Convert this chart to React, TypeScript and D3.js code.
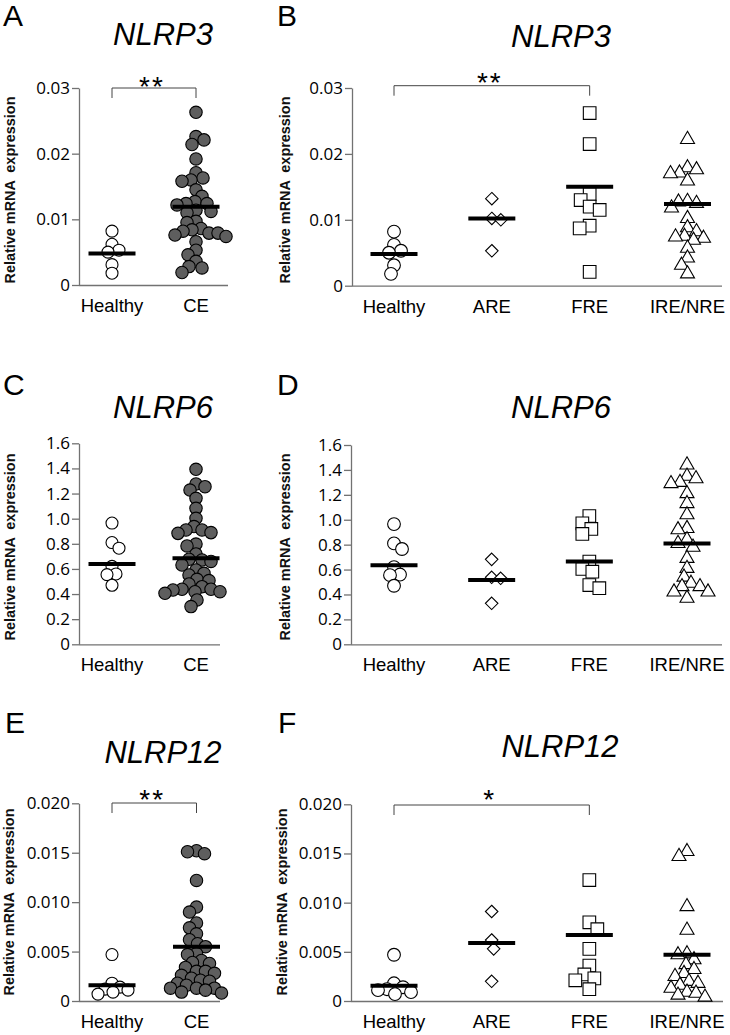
import React, { useRef, useEffect } from 'react';
import * as d3 from 'd3';

// group labels
const twoGroups = ['Healthy', 'CE'];
const fourGroups = ['Healthy', 'ARE', 'FRE', 'IRE/NRE'];

// NLRP3
const nlrp3Healthy = [0.0082, 0.0062, 0.0053, 0.0050, 0.0031, 0.0018];
const nlrp3CE = [0.0263, 0.0226, 0.0221, 0.0214, 0.0192, 0.0171, 0.0163, 0.0160, 0.0158, 0.0145, 0.0135,
  0.0127, 0.0124, 0.0124, 0.0122, 0.0114, 0.0112, 0.0110, 0.0097, 0.0095, 0.0086, 0.0084, 0.0082, 0.0079,
  0.0079, 0.0076, 0.0074, 0.0066, 0.0053, 0.0046, 0.0036, 0.0028, 0.0026, 0.0019];
const nlrp3ARE = [0.0132, 0.0102, 0.0100, 0.0053];
const nlrp3FRE = [0.0262, 0.0215, 0.0139, 0.0130, 0.0120, 0.0115, 0.0091, 0.0087, 0.0021];
const nlrp3IRE = [0.0222, 0.0179, 0.0176, 0.0171, 0.0170, 0.0159, 0.0128, 0.0127, 0.0125, 0.0118, 0.0102,
  0.0088, 0.0082, 0.0075, 0.0074, 0.0072, 0.0069, 0.0057, 0.0042, 0.0031, 0.0018];
const nlrp3MeansA = [0.0048, 0.0119];
const nlrp3MeansB = [0.0048, 0.0102, 0.0150, 0.0124];
const nlrp3Ticks = [0, 0.01, 0.02, 0.03];
const nlrp3TickLabels = ['0', '0.01', '0.02', '0.03'];

// NLRP6
const nlrp6Healthy = [0.965, 0.81, 0.765, 0.62, 0.56, 0.555, 0.47];
const nlrp6CE = [1.393, 1.276, 1.255, 1.228, 1.162, 1.082, 1.003, 0.937, 0.91, 0.91, 0.889, 0.883, 0.798,
  0.783, 0.719, 0.677, 0.671, 0.66, 0.631, 0.592, 0.565, 0.552, 0.517, 0.507, 0.48, 0.459, 0.438, 0.438,
  0.432, 0.419, 0.419, 0.406, 0.353, 0.300];
const nlrp6ARE = [0.682, 0.538, 0.53, 0.329];
const nlrp6FRE = [1.03, 0.971, 0.926, 0.886, 0.664, 0.605, 0.583, 0.476, 0.45];
const nlrp6IRE = [1.44, 1.35, 1.33, 1.30, 1.29, 1.21, 1.13, 1.04, 0.93, 0.92, 0.84, 0.81, 0.78, 0.69, 0.61,
  0.54, 0.49, 0.463, 0.463, 0.42, 0.42, 0.37];
const nlrp6MeansC = [0.64, 0.685];
const nlrp6MeansD = [0.634, 0.516, 0.664, 0.81];
const nlrp6Ticks = [0, 0.2, 0.4, 0.6, 0.8, 1.0, 1.2, 1.4, 1.6];
const nlrp6TickLabels = ['0', '0.2', '0.4', '0.6', '0.8', '1.0', '1.2', '1.4', '1.6'];

// NLRP12
const nlrp12Healthy = [0.0047, 0.0018, 0.0014, 0.0012, 0.0011, 0.0009, 0.0007];
const nlrp12CE = [0.0152, 0.0151, 0.0149, 0.0122, 0.0095, 0.0090, 0.0079, 0.0074, 0.0068, 0.0062, 0.0058,
  0.0055, 0.0048, 0.0047, 0.0041, 0.0039, 0.0038, 0.0034, 0.0030, 0.0030, 0.0028, 0.0026, 0.0023, 0.0021,
  0.0020, 0.0018, 0.0016, 0.0013, 0.0013, 0.0013, 0.0011, 0.0009, 0.0008];
const nlrp12ARE = [0.0091, 0.0062, 0.0053, 0.0020];
const nlrp12FRE = [0.0123, 0.0080, 0.0073, 0.0053, 0.0036, 0.0027, 0.0023, 0.0021, 0.0012];
const nlrp12IRE = [0.0152, 0.0147, 0.0096, 0.0072, 0.0048, 0.0047, 0.0042, 0.0037, 0.0032, 0.0028, 0.0025,
  0.0020, 0.0018, 0.0016, 0.0013, 0.0009, 0.0008, 0.0006, 0.0004];
const nlrp12MeansE = [0.0016, 0.0055];
const nlrp12MeansF = [0.00156, 0.0059, 0.0067, 0.0047];
const nlrp12Ticks = [0, 0.005, 0.01, 0.015, 0.02];
const nlrp12TickLabels = ['0', '0.005', '0.010', '0.015', '0.020'];

const AXIS = '#727272';
const DARK = '#5e5e5e';
const ARIAL = 'Liberation Sans, Arial, sans-serif';
const SANS = 'Open Sans, sans-serif';

const symbols = {
  circle: d3.symbolCircle,
  diamond: d3.symbolDiamond2,
  square: d3.symbolSquare,
  triangle: d3.symbolTriangle,
};

const twoStyle = [
  { shape: 'circle', size: 113, fill: '#fff', gap: 8.5 },
  { shape: 'circle', size: 121, fill: DARK, gap: 8.5 },
];
const fourStyle = [
  { shape: 'circle', size: 128, fill: '#fff', gap: 9 },
  { shape: 'diamond', size: 100, fill: '#fff', gap: 9 },
  { shape: 'square', size: 160, fill: '#fff', gap: 10 },
  { shape: 'triangle', size: 85, fill: '#fff', gap: 9 },
];

// simple beeswarm: nudge points sideways so they only partly overlap
function dodge(values, y, gap) {
  const placed = [];
  const out = new Array(values.length).fill(0);
  const order = values.map((_, i) => i).sort((a, b) => values[b] - values[a]);
  order.forEach((i, n) => {
    const py = y(values[i]);
    const sign = n % 2 === 0 ? 1 : -1;
    for (let k = 0; k < 60; k++) {
      const cands = k === 0 ? [0] : [sign * k, -sign * k];
      const hit = cands.find(dx =>
        placed.every(q => (q.x - dx) ** 2 + (q.y - py) ** 2 >= gap * gap));
      if (hit !== undefined) {
        out[i] = hit;
        placed.push({ x: hit, y: py });
        return;
      }
    }
  });
  return out;
}

const panels = [
  { letter: 'A', title: 'NLRP3', cats: twoGroups, groups: [nlrp3Healthy, nlrp3CE], means: nlrp3MeansA,
    ticks: nlrp3Ticks, tickLabels: nlrp3TickLabels, style: twoStyle,
    x0: 79, x1: 228, yTop: 88, yBot: 285, first: 112, last: 196, titleX: 163, titleY: 45,
    letterX: 3, letterY: 26, labX: 15, labY: 190, bracket: { a: 0, b: 1, y: 88, text: '**', ty: 80 } },
  { letter: 'B', title: 'NLRP3', cats: fourGroups, groups: [nlrp3Healthy, nlrp3ARE, nlrp3FRE, nlrp3IRE],
    means: nlrp3MeansB, ticks: nlrp3Ticks, tickLabels: nlrp3TickLabels, style: fourStyle,
    x0: 352, x1: 722, yTop: 88, yBot: 285.7, first: 394, last: 687.5, titleX: 561, titleY: 47,
    letterX: 277, letterY: 26, labX: 290, labY: 190, bracket: { a: 0, b: 2, y: 85.7, text: '**', ty: 76 } },
  { letter: 'C', title: 'NLRP6', cats: twoGroups, groups: [nlrp6Healthy, nlrp6CE], means: nlrp6MeansC,
    ticks: nlrp6Ticks, tickLabels: nlrp6TickLabels, style: twoStyle,
    x0: 79, x1: 220, yTop: 443.3, yBot: 644.3, first: 112, last: 196, titleX: 163, titleY: 418,
    letterX: 3, letterY: 395, labX: 15, labY: 547, bracket: null },
  { letter: 'D', title: 'NLRP6', cats: fourGroups, groups: [nlrp6Healthy, nlrp6ARE, nlrp6FRE, nlrp6IRE],
    means: nlrp6MeansD, ticks: nlrp6Ticks, tickLabels: nlrp6TickLabels, style: fourStyle,
    x0: 351, x1: 722, yTop: 445, yBot: 644.3, first: 394, last: 687, titleX: 561, titleY: 418,
    letterX: 277, letterY: 395, labX: 290, labY: 547, bracket: null },
  { letter: 'E', title: 'NLRP12', cats: twoGroups, groups: [nlrp12Healthy, nlrp12CE], means: nlrp12MeansE,
    ticks: nlrp12Ticks, tickLabels: nlrp12TickLabels, style: twoStyle,
    x0: 79, x1: 220, yTop: 803.3, yBot: 1001, first: 112, last: 196.5, titleX: 163, titleY: 763,
    letterX: 5, letterY: 733, labX: 14, labY: 902, bracket: { a: 0, b: 1, y: 803, text: '**', ty: 793 } },
  { letter: 'F', title: 'NLRP12', cats: fourGroups, groups: [nlrp12Healthy, nlrp12ARE, nlrp12FRE, nlrp12IRE],
    means: nlrp12MeansF, ticks: nlrp12Ticks, tickLabels: nlrp12TickLabels, style: fourStyle,
    x0: 351, x1: 723, yTop: 804.3, yBot: 1001, first: 394, last: 687, titleX: 560, titleY: 757,
    letterX: 278, letterY: 733, labX: 287, labY: 902, bracket: { a: 0, b: 2, y: 805, text: '*', ty: 793 } },
];

function Panel({ p }) {
  const axisRef = useRef(null);
  const max = p.ticks[p.ticks.length - 1];
  const y = d3.scaleLinear().domain([0, max]).range([p.yBot, p.yTop]);
  const x = d3.scalePoint().domain(p.cats).range([p.first, p.last]);

  useEffect(() => {
    const g = d3.select(axisRef.current);
    g.selectAll('*').remove();
    g.call(d3.axisLeft(y)
      .tickValues(p.ticks)
      .tickFormat((d, i) => p.tickLabels[i])
      .tickSize(7)
      .tickSizeOuter(0)
      .tickPadding(2));
    g.select('.domain').attr('stroke', AXIS).attr('stroke-width', 1.3);
    g.selectAll('.tick line').attr('stroke', AXIS).attr('stroke-width', 1.3);
    g.selectAll('.tick text')
      .attr('font-family', SANS)
      .attr('font-size', 17)
      .attr('fill', '#000');
  }, []);

  const br = p.bracket;

  return (
    <g>
      <text x={p.letterX} y={p.letterY} fontFamily={ARIAL} fontSize={30}>{p.letter}</text>
      <text x={p.titleX} y={p.titleY} fontFamily={ARIAL} fontSize={31} fontStyle="italic"
        textAnchor="middle">{p.title}</text>
      <text transform={`translate(${p.labX},${p.labY}) rotate(-90)`} textAnchor="middle"
        fontFamily={ARIAL} fontSize={15} fontWeight="bold" fill="#111"
        textLength={187} lengthAdjust="spacingAndGlyphs"
        style={{ whiteSpace: 'pre' }}>Relative mRNA  expression</text>

      <g ref={axisRef} transform={`translate(${p.x0},0)`} />
      <line x1={p.x0} x2={p.x1} y1={p.yBot + 0.5} y2={p.yBot + 0.5} stroke={AXIS} strokeWidth={1.3} />
      {p.cats.map(c => (
        <text key={c} x={x(c)} y={p.yBot + 27} textAnchor="middle" fontFamily={ARIAL}
          fontSize={18.5}>{c}</text>
      ))}

      {p.groups.map((vals, gi) => {
        const st = p.style[gi];
        const offs = dodge(vals, y, st.gap);
        const path = d3.symbol().type(symbols[st.shape]).size(st.size)();
        const cx = x(p.cats[gi]);
        return (
          <g key={gi}>
            {vals.map((v, i) => (
              <path key={i} d={path} transform={`translate(${cx + offs[i]},${y(v)})`}
                fill={st.fill} stroke="#000" strokeWidth={1.1} />
            ))}
          </g>
        );
      })}

      {p.means.map((m, gi) => (
        <line key={gi} x1={x(p.cats[gi]) - 23.5} x2={x(p.cats[gi]) + 23.5} y1={y(m)} y2={y(m)}
          stroke="#000" strokeWidth={4} />
      ))}

      {br && (
        <g>
          <path d={`M${x(p.cats[br.a])},${br.y + 10}V${br.y}H${x(p.cats[br.b])}V${br.y + 10}`}
            fill="none" stroke="#444" strokeWidth={1} />
          <text x={(x(p.cats[br.a]) + x(p.cats[br.b])) / 2 - 2} y={br.ty + 16} textAnchor="middle"
            fontFamily={ARIAL} fontSize={28} letterSpacing={2}>{br.text}</text>
        </g>
      )}
    </g>
  );
}

export default function App() {
  return (
    <div style={{ position: 'absolute', left: 0, top: 0 }}>
      <svg width={730} height={1035} style={{ display: 'block', background: '#fff' }}>
        {panels.map(p => <Panel key={p.letter} p={p} />)}
      </svg>
    </div>
  );
}
